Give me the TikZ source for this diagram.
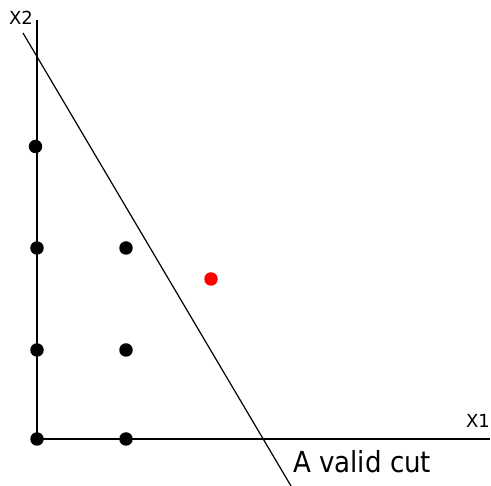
\documentclass[tikz,border=0pt]{standalone}
\usepackage{fontspec}
\setmainfont{DejaVu Sans}
\newfontfamily\condfont{DejaVu Sans Condensed}
\begin{document}
\begin{tikzpicture}[x=1pt,y=-1pt,
  axis/.style={line width=1.6pt},
  cutline/.style={line width=1.2pt},
  pt/.style={circle,fill=black,inner sep=0pt,minimum size=13.5pt},
  redpt/.style={circle,fill=red,inner sep=0pt,minimum size=13.5pt},
  lbl/.style={inner sep=0pt,font=\fontsize{18}{18}\selectfont}]
\useasboundingbox (0,0) rectangle (491,486);
\coordinate (o) at (37,439);
\coordinate (ytop) at (37,20);
\coordinate (xend) at (490,439);
\coordinate (c1) at (23,33);
\coordinate (c2) at (291,486);
\draw[axis] (ytop) -- (o) -- (xend);
\draw[cutline] (c1) -- (c2);
\node[pt] (p1) at (35.5,146.5) {};
\node[pt] (p2) at (37,248) {};
\node[pt] (p3) at (37,350) {};
\node[pt] (p4) at (37,439) {};
\node[pt] (p5) at (126,248) {};
\node[pt] (p6) at (126,350) {};
\node[pt] (p7) at (126,439) {};
\node[redpt] (r) at (211,279) {};
\node[lbl,anchor=base] (x2) at (21,25) {X2};
\node[lbl,anchor=base] (x1) at (478,428) {X1};
\node[inner sep=0pt,anchor=base west,font=\condfont\fontsize{29}{29}\selectfont] (cut) at (293,473) {A valid cut};
\end{tikzpicture}
\end{document}
